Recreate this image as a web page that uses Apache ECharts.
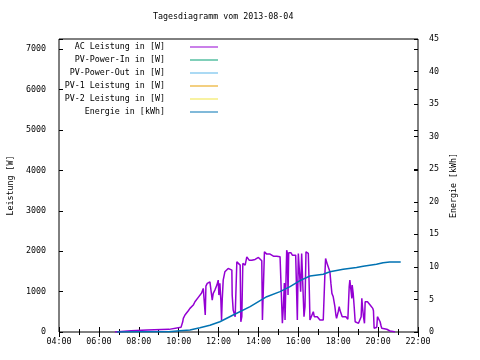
<!DOCTYPE html>
<html>
<head>
<meta charset="utf-8">
<script src="https://cdn.jsdelivr.net/npm/echarts@6/dist/echarts.min.js"></script>
<style>html,body{margin:0;padding:0;background:#fff}#c{width:480px;height:360px}</style>
</head>
<body>
<div id="c"></div>
<script>
const titleText = 'Tagesdiagramm vom 2013-08-04';
const seriesNames = ['AC Leistung in [W]', 'PV-Power-In in [W]', 'PV-Power-Out in [W]', 'PV-1 Leistung in [W]', 'PV-2 Leistung in [W]', 'Energie in [kWh]'];
const seriesColors = ['#9400d3', '#009e73', '#56b4e9', '#e69f00', '#f0e442', '#0072b2'];

const acTime = ["06:48","06:51","07:37","07:40","08:25","08:28","09:31","09:34","10:07","10:12","10:14","10:19","10:24","10:29","10:34","10:39","10:44","10:49","10:54","10:59","11:04","11:09","11:14","11:17","11:20","11:22","11:26","11:29","11:34","11:39","11:41","11:44","11:49","11:55","11:59","12:01","12:04","12:07","12:09","12:11","12:14","12:19","12:25","12:29","12:34","12:40","12:41","12:44","12:50","12:55","13:00","13:05","13:07","13:10","13:13","13:17","13:20","13:25","13:29","13:32","13:35","13:40","13:45","13:50","13:55","14:00","14:05","14:10","14:12","14:15","14:18","14:25","14:30","14:35","14:40","14:45","14:55","15:05","15:10","15:12","15:15","15:18","15:20","15:25","15:27","15:29","15:31","15:33","15:38","15:42","15:47","15:52","15:56","15:57","16:00","16:05","16:07","16:10","16:13","16:17","16:20","16:23","16:27","16:30","16:33","16:35","16:37","16:40","16:45","16:48","16:53","16:57","17:00","17:05","17:10","17:15","17:18","17:20","17:22","17:25","17:28","17:33","17:35","17:38","17:41","17:44","17:45","17:48","17:50","17:53","17:55","17:58","18:00","18:03","18:05","18:07","18:10","18:12","18:17","18:23","18:26","18:29","18:30","18:33","18:35","18:38","18:41","18:42","18:45","18:48","18:51","18:56","19:01","19:06","19:09","19:11","19:13","19:16","19:19","19:21","19:24","19:28","19:31","19:36","19:41","19:44","19:46","19:48","19:51","19:54","19:56","19:58","20:01","20:03","20:06","20:09","20:11","20:16","20:26","20:30","20:36","20:45","20:51"];
const acPower = [0,30,30,50,50,65,65,105,115,247,338,420,462,527,585,620,667,748,773,857,889,963,1079,1119,420,1136,1203,1242,1242,1203,790,956,1037,1161,1284,914,1203,773,296,790,1284,1489,1531,1573,1613,1531,914,543,378,1736,1712,1655,254,378,1697,1736,1655,1860,1845,1778,1820,1778,1761,1796,1820,1845,1820,1761,296,338,1983,1927,1944,1927,1902,1877,1877,1860,1860,215,625,1210,296,2025,1951,914,1960,1944,1959,1902,1927,1902,1902,296,1944,1983,995,1944,1944,378,625,1983,1983,1944,1037,296,254,338,501,378,420,378,338,296,254,296,338,1450,1820,1778,1655,1613,1489,1203,956,956,872,832,625,420,338,378,501,625,543,501,543,378,338,378,338,314,296,1119,1284,1242,832,1161,956,625,254,230,215,198,378,832,625,378,215,748,790,748,709,667,625,585,527,91,67,131,116,378,420,338,254,148,91,67,67,49,25,12,0];

const pvInTime = [], pvInPower = [];
const pvOutTime = [], pvOutPower = [];
const pv1Time = [], pv1Power = [];
const pv2Time = [], pv2Power = [];

const energyTime = ["06:54","08:00","09:30","10:04","10:34","11:04","11:34","12:04","12:44","13:35","14:25","15:05","15:35","16:05","16:35","17:15","17:35","18:15","18:55","19:15","19:55","20:15","20:35","21:08"];
const energyKWh = [0,0.02,0.05,0.2,0.3,0.66,1.03,1.58,2.61,3.89,5.42,6.2,6.96,7.88,8.6,8.86,9.26,9.63,9.9,10.1,10.4,10.65,10.75,10.77];

const xTicksHours = [4, 22, 2];      // min, max, step
const leftAxis = [0, 7250, 1000];
const rightAxis = [0, 45, 5];

const FONT = 'DejaVu Sans Mono';
const toH = s => { const p = s.split(':').map(Number); return p[0] + p[1] / 60; };
const pairs = (t, v) => t.map((s, i) => [toH(s), v[i]]);
const pad = n => (n < 10 ? '0' : '') + n;

const txt = { fontFamily: FONT, fontSize: 8.33, color: '#000' };

const chart = echarts.init(document.getElementById('c'), null, { renderer: 'canvas' });

const seriesData = [
  pairs(acTime, acPower),
  pairs(pvInTime, pvInPower),
  pairs(pvOutTime, pvOutPower),
  pairs(pv1Time, pv1Power),
  pairs(pv2Time, pv2Power),
  pairs(energyTime, energyKWh)
];

const option = {
  animation: false,
  backgroundColor: '#fff',
  title: {
    text: titleText, left: 153, top: 12, padding: 0,
    textStyle: Object.assign({}, txt, { fontWeight: 'normal', lineHeight: 10 })
  },
  grid: { left: 59, right: 62, top: 39, bottom: 28, containLabel: false, outerBoundsMode: 'none',
    show: true, borderColor: '#000', borderWidth: 1, backgroundColor: 'transparent' },
  legend: seriesNames.map((n, i) => ({
    data: [n], orient: 'vertical', right: 262, top: 42 + 13 * i, align: 'right', padding: 0,
    itemWidth: 28, itemHeight: 1, icon: 'rect', selectedMode: false,
    formatter: nm => nm + '    ',
    textStyle: Object.assign({}, txt, { lineHeight: 10 })
  })),
  xAxis: [{
    type: 'value', min: xTicksHours[0], max: xTicksHours[1], interval: xTicksHours[2],
    axisLine: { show: false },
    axisTick: { show: true, inside: true, length: 5, lineStyle: { color: '#000' } },
    minorTick: { show: true, splitNumber: 2, length: 3, lineStyle: { color: '#000' } },
    splitLine: { show: false },
    axisLabel: Object.assign({}, txt, { margin: 6, formatter: v => pad(v) + ':00' })
  }, {
    type: 'value', position: 'top', min: xTicksHours[0], max: xTicksHours[1], interval: xTicksHours[2],
    axisLine: { show: false },
    axisTick: { show: true, inside: true, length: 5, lineStyle: { color: '#000' } },
    minorTick: { show: true, splitNumber: 2, length: 3, lineStyle: { color: '#000' } },
    splitLine: { show: false }, axisLabel: { show: false }
  }],
  yAxis: [{
    type: 'value', position: 'left', min: leftAxis[0], max: leftAxis[1], interval: leftAxis[2],
    name: 'Leistung [W]', nameLocation: 'middle', nameGap: 44, nameRotate: 90,
    nameTextStyle: txt,
    axisLine: { show: false },
    axisTick: { show: true, inside: true, length: 4, lineStyle: { color: '#000' } },
    splitLine: { show: false },
    axisLabel: Object.assign({}, txt, { margin: 13, formatter: v => (v % 1000 === 0 ? String(v) : '') })
  }, {
    type: 'value', position: 'right', min: rightAxis[0], max: rightAxis[1], interval: rightAxis[2],
    name: 'Energie [kWh]', nameLocation: 'middle', nameGap: 31, nameRotate: 90,
    nameTextStyle: txt,
    axisLine: { show: false },
    axisTick: { show: true, inside: true, length: 4, lineStyle: { color: '#000' } },
    splitLine: { show: false },
    axisLabel: Object.assign({}, txt, { margin: 11 })
  }, {
    type: 'value', position: 'right', min: leftAxis[0], max: leftAxis[1], interval: leftAxis[2],
    axisLine: { show: false },
    axisTick: { show: true, inside: true, length: 4, lineStyle: { color: '#000' } },
    splitLine: { show: false }, axisLabel: { show: false }
  }],
  series: seriesNames.map((n, i) => ({
    name: n, type: 'line', xAxisIndex: 0, yAxisIndex: i === 5 ? 1 : 0,
    data: seriesData[i], showSymbol: false, symbol: 'none',
    color: seriesColors[i],
    lineStyle: { color: seriesColors[i], width: 1.5 },
    z: i === 5 ? 4 : 3
  }))
};
chart.setOption(option);
</script>
</body>
</html>
